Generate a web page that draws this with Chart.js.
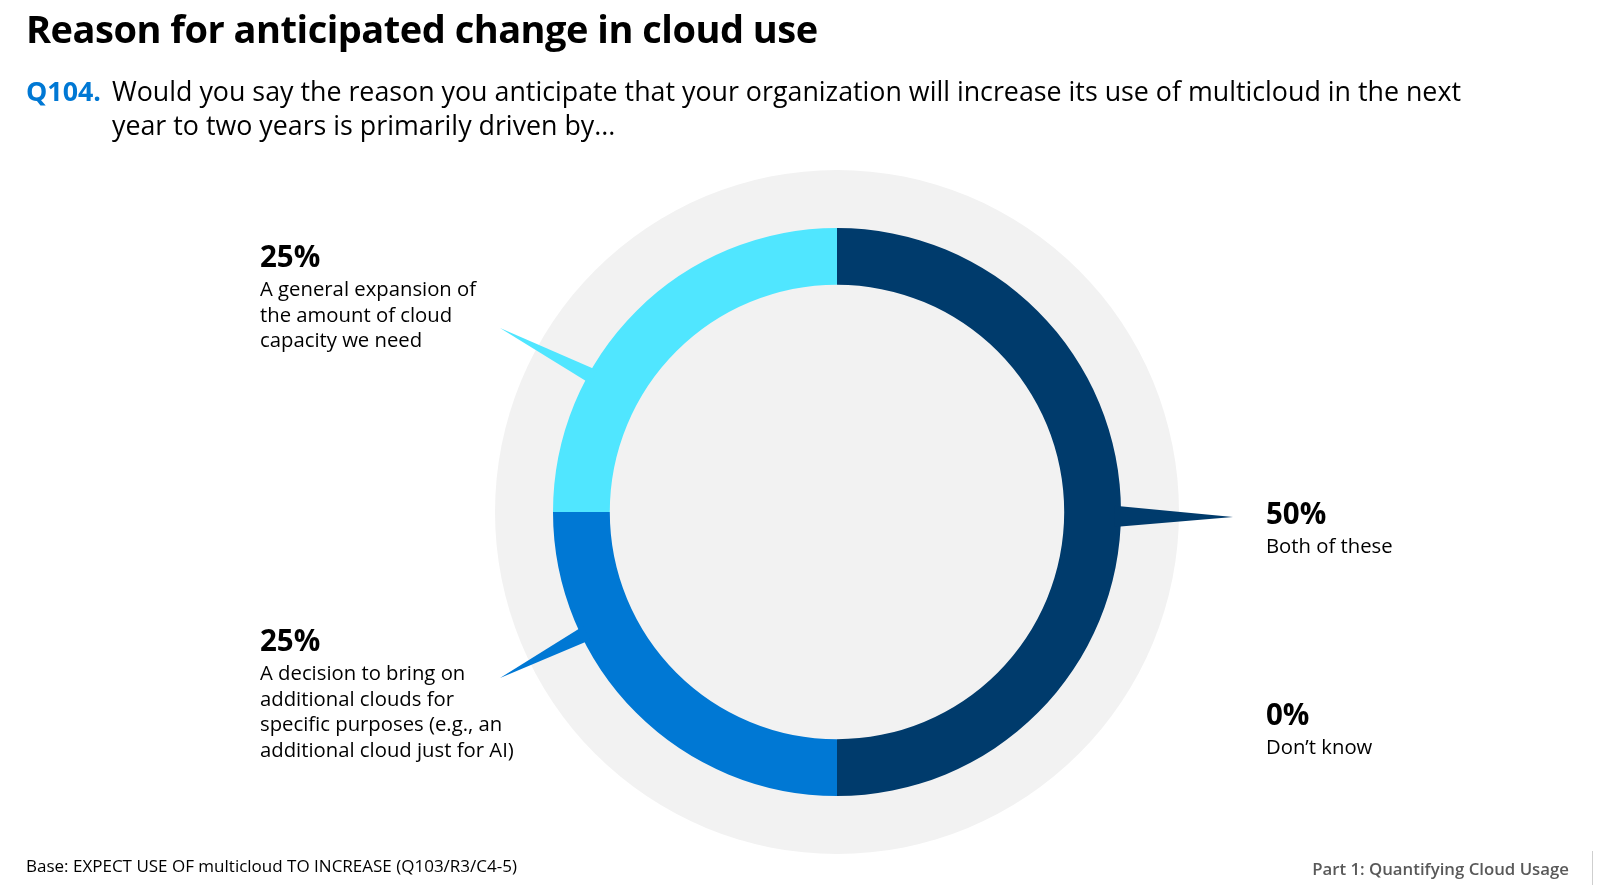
<!DOCTYPE html>
<html>
<head>
<meta charset="utf-8">
<script src="https://cdn.jsdelivr.net/npm/chart.js@4.4.1/dist/chart.umd.min.js"></script>
<style>
html,body{margin:0;padding:0;background:#fff;}
body{width:1600px;height:896px;position:relative;overflow:hidden;font-family:"Open Sans","Noto Sans",sans-serif;color:#000;}
#wrap{position:absolute;left:0;top:0;width:1600px;height:896px;}
.t{position:absolute;white-space:nowrap;}
#title{left:26px;top:4px;font-size:38px;font-weight:700;line-height:48px;letter-spacing:-0.5px;}
#q{left:26px;top:74px;font-size:26.8px;line-height:34px;}
#q b{color:#0078D4;font-weight:700;display:inline-block;width:86px;}
#q .l2{padding-left:86px;}
.pct{font-size:29.5px;font-weight:700;line-height:34px;}
.desc{font-size:20.3px;line-height:25.5px;}
#base{left:26px;top:854px;font-size:17px;line-height:24px;}
#part{right:31px;top:857px;font-size:16.8px;font-weight:600;color:#595959;line-height:24px;}
#vline{position:absolute;left:1592px;top:851px;width:1px;height:34px;background:#cfcfcf;}
</style>
</head>
<body>
<div id="wrap"><canvas id="c" width="1600" height="896"></canvas></div>
<div class="t" id="title">Reason for anticipated change in cloud use</div>
<div class="t" id="q"><b>Q104.</b>Would you say the reason you anticipate that your organization will increase its use of multicloud in the next<br><span class="l2">year to two years is primarily driven by...</span></div>
<div class="t" id="base">Base: EXPECT USE OF multicloud TO INCREASE (Q103/R3/C4-5)</div>
<div class="t" id="part">Part 1: Quantifying Cloud Usage</div>
<div id="vline"></div>
<script>
// ---- data ----
const categories = [
  ["Both of these"],
  ["A decision to bring on", "additional clouds for", "specific purposes (e.g., an", "additional cloud just for AI)"],
  ["A general expansion of", "the amount of cloud", "capacity we need"],
  ["Don\u2019t know"]
];
const values = [50, 25, 25, 0];

// ---- styles / layout ----
const colors = ["#003B6C", "#0078D4", "#50E6FF", "#9E9E9E"];
const labelPos = [            // left x, centre y of percentage line
  {x: 1266, y: 513},
  {x: 260, y: 640},
  {x: 260, y: 256},
  {x: 1266, y: 714}
];
const callouts = [            // base angles (deg) on ring, tip point
  {i: 0, a1: -1.3, a2: 3.1, tip: [1233, 517]},
  {i: 1, a1: 152.6, a2: 155.8, tip: [500, 678]},
  {i: 2, a1: -152.5, a2: -149.4, tip: [500, 328]}
];

// labels
values.forEach((v, i) => {
  const p = document.createElement('div');
  p.className = 't pct';
  p.style.left = labelPos[i].x + 'px';
  p.style.top = (labelPos[i].y - 17) + 'px';
  p.textContent = v + '%';
  document.body.appendChild(p);
  const d = document.createElement('div');
  d.className = 't desc';
  d.style.left = labelPos[i].x + 'px';
  d.style.top = (labelPos[i].y + 20) + 'px';
  d.innerHTML = categories[i].join('<br>');
  document.body.appendChild(d);
});

const bgDisc = {
  id: 'bgDisc',
  beforeDatasetsDraw(chart) {
    const arc = chart.getDatasetMeta(0).data[0];
    const ctx = chart.ctx;
    ctx.save();
    ctx.fillStyle = '#F2F2F2';
    ctx.beginPath();
    ctx.arc(arc.x, arc.y, arc.outerRadius * 342 / 284, 0, Math.PI * 2);
    ctx.fill();
    ctx.restore();
  },
  afterDatasetsDraw(chart) {
    const meta = chart.getDatasetMeta(0);
    const ctx = chart.ctx;
    ctx.save();
    callouts.forEach(c => {
      const arc = meta.data[c.i];
      const r = arc.outerRadius - 6;
      const a1 = c.a1 * Math.PI / 180, a2 = c.a2 * Math.PI / 180;
      ctx.fillStyle = colors[c.i];
      ctx.beginPath();
      ctx.moveTo(arc.x + r * Math.cos(a1), arc.y + r * Math.sin(a1));
      ctx.lineTo(c.tip[0], c.tip[1]);
      ctx.lineTo(arc.x + r * Math.cos(a2), arc.y + r * Math.sin(a2));
      ctx.closePath();
      ctx.fill();
    });
    ctx.restore();
  }
};

new Chart(document.getElementById('c'), {
  type: 'doughnut',
  data: {
    labels: categories.map(c => c.join(' ')),
    datasets: [{
      data: values,
      backgroundColor: colors,
      borderWidth: 0
    }]
  },
  options: {
    responsive: false,
    animation: false,
    cutout: '80%',
    layout: {padding: {left: 553, right: 479, top: 228, bottom: 100}},
    plugins: {legend: {display: false}, tooltip: {enabled: false}}
  },
  plugins: [bgDisc]
});
</script>
</body>
</html>
